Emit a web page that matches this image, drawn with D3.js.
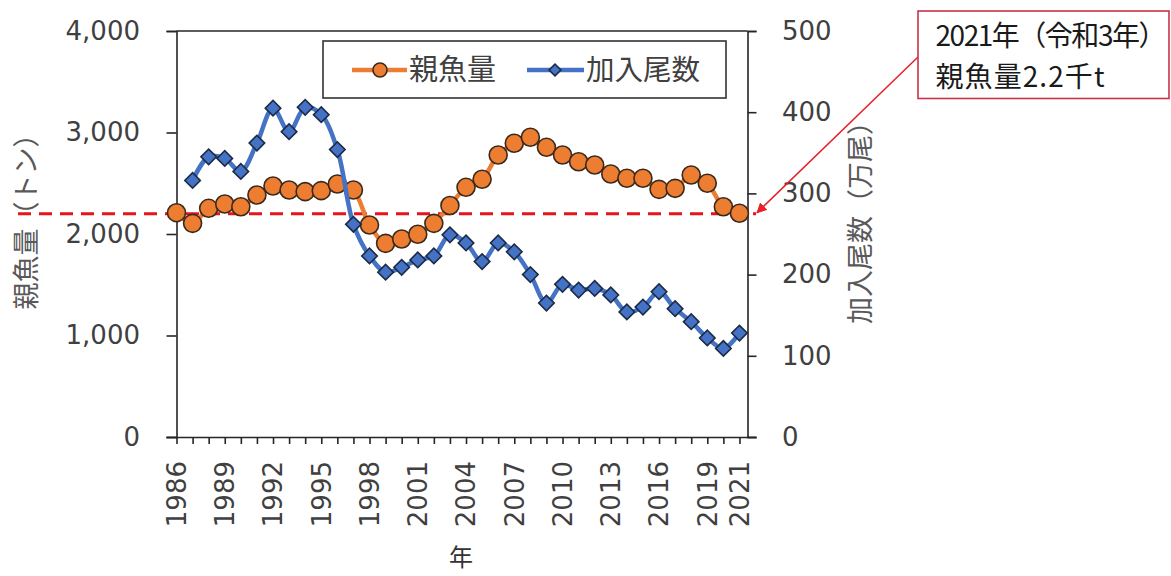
<!DOCTYPE html>
<html><head><meta charset="utf-8">
<script src="https://cdn.jsdelivr.net/npm/d3@7"></script>
<style>
html,body{margin:0;padding:0;background:#fff;}
svg{display:block;}
</style></head>
<body>
<svg id="chart" width="1171" height="576"></svg>
<script>
const years = d3.range(1986, 2022);
const spawnerYears = years;
const spawnerTons = [2210,2105,2253,2296,2269,2384,2473,2433,2417,2427,2493,2433,2089,1908,1951,1997,2105,2281,2460,2539,2778,2894,2953,2854,2778,2712,2680,2591,2549,2549,2440,2450,2581,2500,2269,2204];
const recruitYears = d3.range(1987, 2022);
const recruitCount = [316,345,343,327,362,405,376,406,397,354,262,223,203,209,218,223,249,239,216,239,228,200,165,188,181,183,175,154,160,179,158,142,122,109,128];
const xTickLabels = [1986,1989,1992,1995,1998,2001,2004,2007,2010,2013,2016,2019,2021];
const leftTicks = [0,1000,2000,3000,4000];
const rightTicks = [0,100,200,300,400,500];
const referenceLevel = 2200;
const seriesNames = ["親魚量","加入尾数"];
const annotationLines = ["2021年（令和3年）","親魚量2.2千t"];

const svg = d3.select("#chart");
const L = 176.5, R = 747.5, T = 31, B = 437;
const x = d3.scaleLinear().domain([1986, 2021.5]).range([L, R]);
const yL = d3.scaleLinear().domain([0, 4000]).range([B, T]);
const yR = d3.scaleLinear().domain([0, 500]).range([B, T]);

const numFont = "'DejaVu Sans', Verdana, sans-serif";
const cjkFont = "'Noto Sans CJK JP', sans-serif";
const axisColor = "#262626";
const textColor = "#404040";

// axes
const gx = svg.append("g").attr("transform", `translate(0,${B})`)
  .call(d3.axisBottom(x).tickValues(years).tickSize(7).tickFormat(""));
const gl = svg.append("g").attr("transform", `translate(${L},0)`)
  .call(d3.axisLeft(yL).tickValues(leftTicks).tickSize(10).tickFormat(d3.format(",")));
const gr = svg.append("g").attr("transform", `translate(${R},0)`)
  .call(d3.axisRight(yR).tickValues(rightTicks).tickSize(9).tickFormat(d3.format("d")));
[gx, gl, gr].forEach(g => {
  g.select(".domain").attr("stroke", axisColor).attr("stroke-width", 1.6);
  g.selectAll(".tick line").attr("stroke", axisColor).attr("stroke-width", 1.6);
  g.selectAll("text").attr("fill", textColor).attr("font-family", numFont).attr("font-size", 26);
});
gx.select(".domain").attr("d", `M${L - 10},0.5H${R + 9}`);
gl.selectAll(".tick text").attr("x", -36.5);
gr.selectAll(".tick text").attr("x", 34.5);
// top border
svg.append("line").attr("x1", L).attr("x2", R).attr("y1", T).attr("y2", T)
  .attr("stroke", axisColor).attr("stroke-width", 1.6);

// x tick labels rotated
svg.append("g").selectAll("text").data(xTickLabels).join("text")
  .attr("transform", d => `translate(${x(d)},461) rotate(-90)`)
  .attr("text-anchor", "end").attr("dy", "0.36em")
  .attr("font-family", numFont).attr("font-size", 26).attr("fill", textColor)
  .text(d => d);

// axis titles
svg.append("text").attr("x", 461).attr("y", 566).attr("text-anchor", "middle")
  .attr("font-family", cjkFont).attr("font-size", 24).attr("fill", "#333").text("年");
svg.append("text").attr("transform", "translate(26,215) rotate(-90)").attr("text-anchor", "middle")
  .attr("dy", "0.36em").attr("font-family", cjkFont).attr("font-size", 27).attr("fill", "#595959")
  .text("親魚量（トン）");
svg.append("text").attr("transform", "translate(860,216) rotate(-90)").attr("text-anchor", "middle")
  .attr("dy", "0.36em").attr("font-family", cjkFont).attr("font-size", 27).attr("fill", "#595959")
  .text("加入尾数（万尾）");

// reference dashed line
svg.append("line").attr("x1", 18).attr("x2", 756).attr("y1", yL(referenceLevel)).attr("y2", yL(referenceLevel))
  .attr("stroke", "#E8141C").attr("stroke-width", 3).attr("stroke-dasharray", "13,8");

// series
const orange = "#ED7D31", blue = "#4472C4";
const lineL = d3.line().x(d => x(d[0])).y(d => yL(d[1])).curve(d3.curveCatmullRom.alpha(0.5));
const lineR = d3.line().x(d => x(d[0])).y(d => yR(d[1])).curve(d3.curveCatmullRom.alpha(0.5));
const sData = d3.zip(spawnerYears, spawnerTons);
const rData = d3.zip(recruitYears, recruitCount);

svg.append("path").datum(sData).attr("d", lineL).attr("fill", "none")
  .attr("stroke", orange).attr("stroke-width", 4.5);
svg.append("g").selectAll("circle").data(sData).join("circle")
  .attr("cx", d => x(d[0])).attr("cy", d => yL(d[1])).attr("r", 9)
  .attr("fill", orange).attr("stroke", "#3b2a1c").attr("stroke-width", 1.6);

svg.append("path").datum(rData).attr("d", lineR).attr("fill", "none")
  .attr("stroke", blue).attr("stroke-width", 4.5);
svg.append("g").selectAll("path").data(rData).join("path")
  .attr("transform", d => `translate(${x(d[0])},${yR(d[1])}) rotate(45)`)
  .attr("d", d3.symbol().type(d3.symbolSquare).size(120))
  .attr("fill", blue).attr("stroke", "#1c2a45").attr("stroke-width", 1.6);

// legend
const lg = svg.append("g");
lg.append("rect").attr("x", 323).attr("y", 41).attr("width", 403).attr("height", 57)
  .attr("fill", "#fff").attr("stroke", "#333").attr("stroke-width", 1.6);
lg.append("line").attr("x1", 352).attr("x2", 407).attr("y1", 70).attr("y2", 70).attr("stroke", orange).attr("stroke-width", 4.5);
lg.append("circle").attr("cx", 380).attr("cy", 70).attr("r", 7).attr("fill", orange).attr("stroke", "#3b2a1c").attr("stroke-width", 1.6);
lg.append("text").attr("x", 409).attr("y", 70).attr("dy", "0.36em").attr("font-family", cjkFont)
  .attr("font-size", 29).attr("fill", textColor).text(seriesNames[0]);
lg.append("line").attr("x1", 527).attr("x2", 584).attr("y1", 70).attr("y2", 70).attr("stroke", blue).attr("stroke-width", 4.5);
lg.append("path").attr("transform", "translate(555,70) rotate(45)").attr("d", d3.symbol().type(d3.symbolSquare).size(70))
  .attr("fill", blue).attr("stroke", "#1c2a45").attr("stroke-width", 1.6);
lg.append("text").attr("x", 586).attr("y", 70).attr("dy", "0.36em").attr("font-family", cjkFont)
  .attr("font-size", 28.5).attr("fill", textColor).text(seriesNames[1]);

// annotation
const defs = svg.append("defs");
defs.append("marker").attr("id", "arrow").attr("viewBox", "0 0 10 10").attr("refX", 9).attr("refY", 5)
  .attr("markerWidth", 7).attr("markerHeight", 7).attr("orient", "auto-start-reverse")
  .append("path").attr("d", "M0,0L10,5L0,10Z").attr("fill", "#E8202A");
svg.append("line").attr("x1", 918).attr("y1", 57).attr("x2", 757).attr("y2", yL(referenceLevel) - 1)
  .attr("stroke", "#E8202A").attr("stroke-width", 1.5).attr("marker-end", "url(#arrow)");
svg.append("rect").attr("x", 918).attr("y", 11).attr("width", 251).attr("height", 87.5)
  .attr("fill", "#fff").attr("stroke", "#C8334A").attr("stroke-width", 1.6);
const annWidths = [231, 169];
svg.append("g").selectAll("text").data(annotationLines).join("text")
  .attr("x", 935.5).attr("y", (d, i) => i === 0 ? 36 : 77).attr("dy", "0.37em")
  .attr("textLength", (d, i) => annWidths[i]).attr("lengthAdjust", "spacing")
  .attr("font-family", cjkFont).attr("font-size", 28).attr("fill", "#1a1a1a").text(d => d);
</script>
</body></html>
